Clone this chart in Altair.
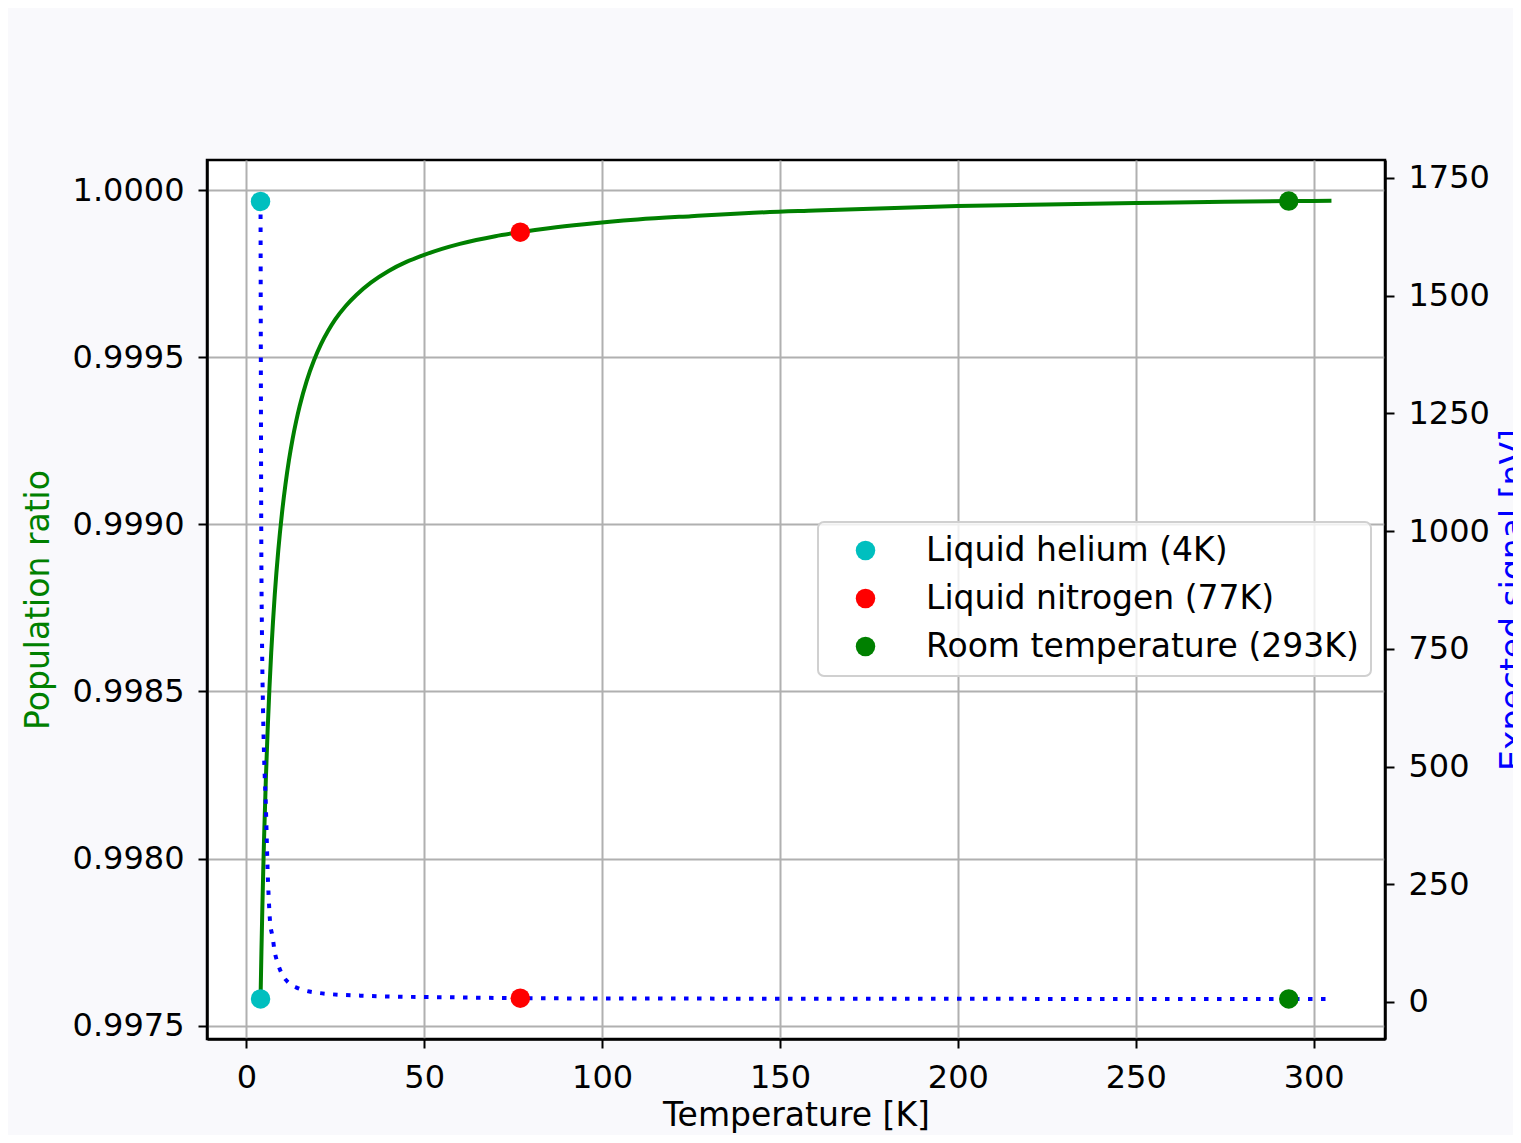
import altair as alt
import pandas as pd

# Population ratio curve (left axis)
ratio_T = [4, 4.25, 4.5, 4.75, 5, 5.5, 6, 6.5, 7, 7.5, 8, 9, 10, 11, 12, 13, 14,
           15, 17, 19, 21, 23, 25, 28, 31, 35, 40, 45, 50, 55, 60, 70, 77, 85,
           95, 110, 125, 140, 160, 180, 200, 225, 250, 275, 293, 305]
ratio_vals = [0.997580, 0.997723, 0.997849, 0.997962, 0.998064, 0.998240,
              0.998386, 0.998510, 0.998617, 0.998709, 0.998790, 0.998924,
              0.999031, 0.999119, 0.999193, 0.999255, 0.999308, 0.999354,
              0.999430, 0.999490, 0.999539, 0.999579, 0.999613, 0.999654,
              0.999687, 0.999723, 0.999758, 0.999785, 0.999806, 0.999824,
              0.999839, 0.999862, 0.999874, 0.999886, 0.999898, 0.999912,
              0.999922, 0.999931, 0.999939, 0.999946, 0.999952, 0.999957,
              0.999961, 0.999965, 0.999967, 0.999968]

# Expected signal curve (right axis, nV)
sig_T = [4, 4.1, 4.2, 4.4, 4.7, 5.0, 5.5, 5.8, 6.0, 6.3, 6.7, 7.4, 7.9, 8.8,
         10.2, 11, 12.7, 14, 16.1, 19.6, 23, 27, 32, 38, 45, 57, 77, 100, 150,
         200, 250, 293, 305]
sig_vals = [1700, 1300, 1000, 780, 620, 520, 415, 330, 277, 221, 168, 138,
            110, 83, 57, 48, 36, 31, 25, 20, 17, 15, 13.5, 12, 11, 10, 8, 7.5,
            7, 6.7, 6.5, 6.4, 6.3]

# Highlighted temperatures
pt_labels = ["Liquid helium (4K)", "Liquid nitrogen (77K)", "Room temperature (293K)"]
pt_T = [4, 77, 293]
pt_ratio = [0.99758, 0.999874, 0.999967]
pt_signal = [1700, 8, 6.4]
pt_colors = ["#00bfbf", "#ff0000", "#008000"]

FONT = "DejaVu Sans"
FS_TICK = 32
FS_TEXT = 33

df_ratio = pd.DataFrame({"T": ratio_T, "ratio": ratio_vals})
df_sig = pd.DataFrame({"T": sig_T, "signal": sig_vals})
df_pts = pd.DataFrame({"T": pt_T, "ratio": pt_ratio, "signal": pt_signal, "label": pt_labels})

xscale = alt.Scale(domain=[-11.05, 320.05], nice=False, zero=False)
xaxis = alt.Axis(title="Temperature [K]", values=[0, 50, 100, 150, 200, 250, 300],
                 grid=True, format="d", titlePadding=6)
yl_scale = alt.Scale(domain=[0.99746, 1.00009], nice=False, zero=False)
yl_axis = alt.Axis(title="Population ratio", titleColor="#008000",
                   values=[0.9975, 0.998, 0.9985, 0.999, 0.9995, 1.0],
                   format=".4f", grid=True, orient="left", titlePadding=17)
yr_scale = alt.Scale(domain=[-78.6, 1788], nice=False, zero=False)
yr_axis = alt.Axis(title="Expected signal [nV]", titleColor="#0000ff",
                   values=[0, 250, 500, 750, 1000, 1250, 1500, 1750],
                   format="d", grid=False, orient="right", titleAngle=270,
                   titleX=138, titleY=439.5, titleAlign="center",
                   titleBaseline="alphabetic")

color = alt.Color("label:N", scale=alt.Scale(domain=pt_labels, range=pt_colors),
                  legend=alt.Legend(title=None, orient="none", legendX=611, legendY=362))

x_enc = alt.X("T:Q", scale=xscale, axis=xaxis)

green_line = alt.Chart(df_ratio).mark_line(color="#008000", strokeWidth=4,
                                           interpolate="monotone").encode(
    x=x_enc, y=alt.Y("ratio:Q", scale=yl_scale, axis=yl_axis))
ratio_pts = alt.Chart(df_pts).mark_circle(size=380, opacity=1).encode(
    x=x_enc, y=alt.Y("ratio:Q", scale=yl_scale, axis=yl_axis), color=color)
left = alt.layer(green_line, ratio_pts)

blue_line = alt.Chart(df_sig).mark_line(color="#0000ff", strokeWidth=4,
                                        strokeDash=[4.5, 8.5], strokeCap="butt",
                                        interpolate="monotone").encode(
    x=x_enc, y=alt.Y("signal:Q", scale=yr_scale, axis=yr_axis))
sig_pts = alt.Chart(df_pts).mark_circle(size=380, opacity=1).encode(
    x=x_enc, y=alt.Y("signal:Q", scale=yr_scale, axis=yr_axis), color=color)
right = alt.layer(blue_line, sig_pts)

chart = alt.layer(left, right).resolve_scale(y="independent").properties(
    width=1178, height=879,
    autosize=alt.AutoSizeParams(type="none"),
    padding={"left": 199, "top": 152, "right": 128, "bottom": 96},
).configure(
    background="#f9f9fc",
    font=FONT,
).configure_view(
    fill="white", stroke="black", strokeWidth=2.5,
).configure_axis(
    labelFont=FONT, labelFontSize=FS_TICK, labelColor="black",
    titleFont=FONT, titleFontSize=FS_TEXT, titleFontWeight="normal", titleColor="black",
    domainColor="black", domainWidth=2.5,
    tickColor="black", tickWidth=2, tickSize=9, labelPadding=14,
    gridColor="#b0b0b0", gridWidth=2,
).configure_legend(
    labelFont=FONT, labelFontSize=FS_TEXT, labelColor="black",
    symbolSize=380, symbolType="circle", symbolStrokeWidth=0, symbolOpacity=1,
    padding=12, rowPadding=14, labelOffset=44, symbolOffset=19,
    fillColor="rgba(255,255,255,0.8)", strokeColor="#d0d0d0", strokeWidth=2,
    cornerRadius=6, labelLimit=1000,
)

chart.save("out.html", embed_options={"renderer": "svg", "actions": False})
